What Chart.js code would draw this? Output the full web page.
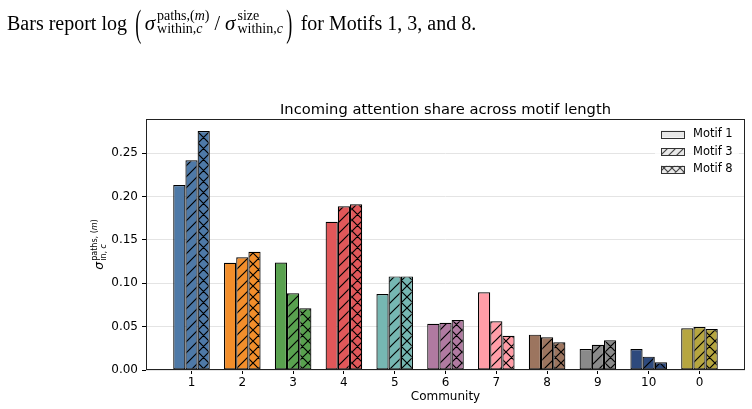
<!DOCTYPE html>
<html>
<head>
<meta charset="utf-8">
<script src="https://cdn.jsdelivr.net/npm/chart.js@4.4.1/dist/chart.umd.min.js"></script>
<style>
  html, body { margin: 0; padding: 0; background: #fff; }
  #quadro { position: relative; width: 752px; height: 409px; overflow: hidden; }
  #grafico { position: absolute; left: 0; top: 0; }
  #texto {
    position: absolute; left: 7px; top: 9px;
    font-family: "Liberation Serif", "DejaVu Serif", serif;
    font-size: 20px; line-height: 24px; white-space: nowrap; color: #000;
  }
  #texto .par { display: inline-block; transform: scale(0.9, 1.85); margin: 0 3px 0 3px; }
  #texto .par.fim { margin: 0 8px 0 3px; }
  #texto .sig { font-style: italic; font-size: 21px; }
  #texto .scr { display: inline-block; vertical-align: -3px; font-size: 14px; line-height: 13px; margin-left: 2px; }
  #texto .scr span { display: block; }
  #texto .bar { margin: 0 5px 0 5px; }
</style>
</head>
<body>
<div id="quadro">
  <canvas id="grafico" width="752" height="409"></canvas>
  <div id="texto">Bars report log <span class="par">(</span><span class="sig">σ</span><span class="scr"><span>paths,(<i>m</i>)</span><span>within,<i>c</i></span></span><span class="bar">/</span><span class="sig">σ</span><span class="scr"><span>size</span><span>within,<i>c</i></span></span><span class="par fim">)</span>for Motifs 1, 3, and 8.</div>
</div>
<script>
// Dados
const comunidades = ["1", "2", "3", "4", "5", "6", "7", "8", "9", "10", "0"];
const motivos = ["Motif 1", "Motif 3", "Motif 8"];
const motif1 = [0.2135, 0.1238, 0.1240, 0.1710, 0.0877, 0.0534, 0.0896, 0.0408, 0.0242, 0.0242, 0.0481];
const motif3 = [0.2420, 0.1300, 0.0885, 0.1888, 0.1080, 0.0546, 0.0562, 0.0377, 0.0292, 0.0154, 0.0496];
const motif8 = [0.2758, 0.1365, 0.0712, 0.1912, 0.1080, 0.0577, 0.0396, 0.0319, 0.0343, 0.0088, 0.0473];
const yTicks = [0, 0.05, 0.10, 0.15, 0.20, 0.25];
const cores = ["#4e79a7", "#f28e2b", "#59a14f", "#e15759", "#76b7b2", "#b07aa1",
               "#ff9da7", "#9c755f", "#8a8a8a", "#2e4a7d", "#b6a640"];
const hachuras = ["", "/", "x"];

const titulo = "Incoming attention share across motif length";

// Cria um padrão de hachura (tipo matplotlib) para uma cor
function criarHachura(cor, tipo, corLinha, s = 11) {
    const c = document.createElement("canvas");
    c.width = s;
    c.height = s;
    const g = c.getContext("2d");
    g.fillStyle = cor;
    g.fillRect(0, 0, s, s);
    if (!tipo) return g.createPattern(c, "repeat");
    g.strokeStyle = corLinha;
    g.lineWidth = 1.2;
    g.beginPath();
    g.moveTo(-1, s + 1); g.lineTo(s + 1, -1);
    g.moveTo(-1, 1); g.lineTo(1, -1);
    g.moveTo(s - 1, s + 1); g.lineTo(s + 1, s - 1);
    if (tipo === "x") {
        g.moveTo(-1, -1); g.lineTo(s + 1, s + 1);
        g.moveTo(s - 1, -1); g.lineTo(s + 1, 1);
        g.moveTo(-1, s - 1); g.lineTo(1, s + 1);
    }
    g.stroke();
    return g.createPattern(c, "repeat");
}

const series = [motif1, motif3, motif8];
const datasets = series.map((valores, k) => ({
    label: motivos[k],
    data: valores.map((v, i) => ({ x: i, y: v })),
    backgroundColor: cores.map(c => k === 0 ? c : criarHachura(c, hachuras[k], "#000")),
    borderColor: "#000",
    borderWidth: 1.2,
    borderSkipped: false,
    categoryPercentage: 0.72,
    barPercentage: 1.0
}));

// Moldura, título, rótulo do eixo y e legenda desenhados no canvas
const extras = {
    id: "extras",
    afterDatasetsDraw(chart) {
        const { ctx, chartArea: a } = chart;
        ctx.save();
        ctx.strokeStyle = "#222";
        ctx.lineWidth = 1;
        ctx.strokeRect(a.left + 0.5, a.top + 0.5, a.right - a.left - 1, a.bottom - a.top - 1);
        ctx.restore();
    },
    afterDraw(chart) {
        const { ctx, chartArea: a } = chart;
        ctx.save();
        ctx.fillStyle = "#000";

        // Título
        ctx.font = "14.7px 'DejaVu Sans'";
        ctx.textAlign = "center";
        ctx.textBaseline = "alphabetic";
        ctx.fillText(titulo, (a.left + a.right) / 2, 114);

        // Rótulo do eixo y: sigma com sobrescrito e subscrito
        ctx.save();
        ctx.translate(103, (a.top + a.bottom) / 2);
        ctx.rotate(-Math.PI / 2);
        ctx.textAlign = "left";
        ctx.font = "italic 12.5px 'DejaVu Sans'";
        const wSig = ctx.measureText("σ").width;
        ctx.font = "8px 'DejaVu Sans'";
        const wSup = ctx.measureText("paths, (m)").width;
        const total = wSig + 1 + wSup;
        let x0 = -total / 2;
        ctx.font = "italic 12.5px 'DejaVu Sans'";
        ctx.fillText("σ", x0, 0);
        const xs = x0 + wSig + 1;
        ctx.font = "8px 'DejaVu Sans'";
        ctx.fillText("paths, (", xs, -6);
        let w = ctx.measureText("paths, (").width;
        ctx.font = "italic 8px 'DejaVu Sans'";
        ctx.fillText("m", xs + w, -6);
        w += ctx.measureText("m").width;
        ctx.font = "8px 'DejaVu Sans'";
        ctx.fillText(")", xs + w, -6);
        ctx.fillText("in, ", xs, 3);
        const w2 = ctx.measureText("in, ").width;
        ctx.font = "italic 8px 'DejaVu Sans'";
        ctx.fillText("c", xs + w2, 3);
        ctx.restore();

        // Legenda no canto superior direito
        const linhas = [134, 151.7, 169.3];
        ctx.fillStyle = "rgba(255,255,255,0.8)";
        ctx.fillRect(655, 124, 84, 55);
        motivos.forEach((nome, k) => {
            const y = linhas[k];
            ctx.fillStyle = criarHachura("#e8e8e8", hachuras[k], "#444", 8);
            ctx.fillRect(661, y - 3.5, 24, 7);
            ctx.strokeStyle = "#333";
            ctx.lineWidth = 1;
            ctx.strokeRect(661.5, Math.round(y - 3.5) + 0.5, 23, 7);
            ctx.fillStyle = "#000";
            ctx.font = "11.5px 'DejaVu Sans'";
            ctx.textAlign = "left";
            ctx.textBaseline = "middle";
            ctx.fillText(nome, 693, y);
        });
        ctx.restore();
    }
};

const grafico = new Chart(document.getElementById("grafico"), {
    type: "bar",
    data: { datasets },
    options: {
        responsive: false,
        animation: false,
        devicePixelRatio: 1,
        layout: { padding: { top: 119, right: 7, left: 0, bottom: 0 } },
        plugins: {
            legend: { display: false },
            tooltip: { enabled: false },
            title: { display: false }
        },
        scales: {
            x: {
                type: "linear",
                min: -0.896,
                max: 10.896,
                offset: false,
                afterBuildTicks: s => { s.ticks = comunidades.map((_, i) => ({ value: i })); },
                afterFit: s => { s.height = 39; },
                grid: { offset: false, drawOnChartArea: false, drawTicks: true, tickLength: 4, tickColor: "#000" },
                border: { display: false },
                ticks: {
                    color: "#000",
                    font: { family: "'DejaVu Sans'", size: 12 },
                    padding: 2,
                    autoSkip: false,
                    maxRotation: 0,
                    callback: v => comunidades[v] ?? ""
                },
                title: {
                    display: true,
                    text: "Community",
                    color: "#000",
                    font: { family: "'DejaVu Sans'", size: 12 },
                    padding: { top: 0, bottom: 5 }
                }
            },
            y: {
                min: 0,
                max: 0.2896,
                afterBuildTicks: s => { s.ticks = yTicks.map(v => ({ value: v })); },
                afterFit: s => { s.width = 146; },
                grid: { color: "#e4e4e4", lineWidth: 1, tickLength: 4, tickColor: "#000" },
                border: { display: false },
                ticks: {
                    color: "#000",
                    font: { family: "'DejaVu Sans'", size: 12 },
                    padding: 4,
                    callback: v => v.toFixed(2)
                }
            }
        }
    },
    plugins: [extras]
});
</script>
</body>
</html>
